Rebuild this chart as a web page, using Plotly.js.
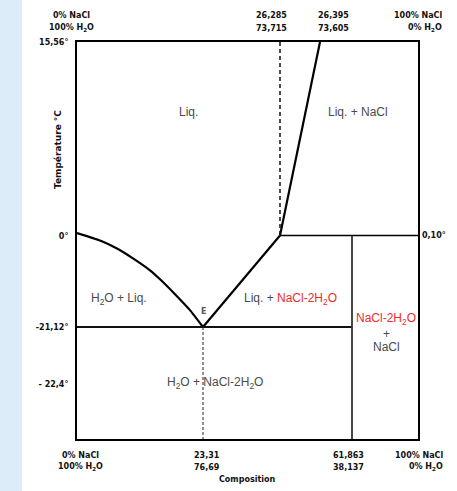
<!DOCTYPE html>
<html>
<head>
<meta charset="utf-8">
<script src="https://cdn.plot.ly/plotly-3.0.1.min.js"></script>
<style>html,body{margin:0;padding:0;background:#fff;}#chart{width:457px;height:491px;}</style>
</head>
<body>
<div id="chart"></div>
<script>
// ---- data (wt% NaCl, °C) ----
const compWater = 0;
const compEutectic = 23.31;
const compPeritectic = 26.285;
const compTopLiquidus = 26.395;
const compDihydrate = 61.863;
const compSalt = 100;

const tempTop = 15.56;
const tempPeritectic = 0.10;
const tempMelt = 0;
const tempEutectic = -21.12;
const tempLow = -22.4;
const tempAxisMin = -23.64;

const iceLiquidusComp = [0, 4.26, 7.40, 10.36, 13.5, 15.36, 18.13, 20.9, 23.31];
const iceLiquidusTemp = [0.3, -1.04, -2.89, -5.19, -7.96, -10.04, -13.5, -17.2, -21.12];
const dihLiquidusComp = [23.31, 26.285];
const dihLiquidusTemp = [-21.12, 0.10];
const saltLiquidusComp = [26.285, 26.395];
const saltLiquidusTemp = [0.10, 15.56];

const yTickVals = [15.56, 0, -21.12, -22.4];
const yTickText = ['15,56°', '0°', '-21,12°', '- 22,4°'];
const yRightTickVals = [0.10];
const yRightTickText = ['0,10°'];

const topRow1 = ['0% NaCl', '26,285', '26,395', '100% NaCl'];
const topRow2 = ['100% H<sub>2</sub>O', '73,715', '73,605', '0% H<sub>2</sub>O'];
const topComps = [0, 26.285, 26.395, 100];
const botRow1 = ['0% NaCl', '23,31', '61,863', '100% NaCl'];
const botRow2 = ['100% H<sub>2</sub>O', '76,69', '38,137', '0% H<sub>2</sub>O'];
const botComps = [0, 23.31, 61.863, 100];

// ---- schematic (non-linear) scale of the diagram ----
const L = 77, R = 418, T = 42, B = 439, W = 457, H = 491;
const xAnchorVal = [0, 23.31, 26.285, 26.395, 61.863, 100];
const xAnchorPx  = [77, 203, 280, 320, 352, 418];
const yAnchorVal = [-23.64, -22.4, -21.12, 0, 0.10, 15.56];
const yAnchorPx  = [439, 384, 327, 236, 235.5, 42];
function interp(v, vals, out) {
  for (let i = 0; i < vals.length - 1; i++) {
    if (v <= vals[i + 1] || i === vals.length - 2) {
      const f = (v - vals[i]) / (vals[i + 1] - vals[i]);
      return out[i] + f * (out[i + 1] - out[i]);
    }
  }
}
const sx = c => (interp(c, xAnchorVal, xAnchorPx) - L) / (R - L);
const sy = t => (B - interp(t, yAnchorVal, yAnchorPx)) / (B - T);
const px = p => (p - L) / (R - L);
const py = p => (B - p) / (B - T);

function line(xs, ys, opts) {
  return Object.assign({
    type: 'scatter', mode: 'lines', x: xs.map(sx), y: ys.map(sy),
    line: {color: '#000', width: 2}, hoverinfo: 'skip', showlegend: false, cliponaxis: false
  }, opts || {});
}

const traces = [
  line(iceLiquidusComp, iceLiquidusTemp, {line: {color: '#000', width: 2.2, shape: 'spline', smoothing: 0.4}}),
  line(dihLiquidusComp, dihLiquidusTemp, {line: {color: '#000', width: 2.2}}),
  line(saltLiquidusComp, saltLiquidusTemp, {line: {color: '#000', width: 2.2}}),
  line([compWater, compDihydrate], [tempEutectic, tempEutectic], {line: {color: '#111', width: 2}}),
  line([compPeritectic, compSalt], [tempPeritectic, tempPeritectic], {line: {color: '#000', width: 1.6}}),
  line([compDihydrate, compDihydrate], [tempPeritectic, tempAxisMin], {line: {color: '#333', width: 1.8}}),
  line([compEutectic, compEutectic], [tempEutectic, tempAxisMin], {line: {color: '#222', width: 1, dash: '3px,2px'}}),
  line([compPeritectic, compPeritectic], [tempTop, tempPeritectic], {line: {color: '#111', width: 1.5, dash: '4px,3px'}}),
  {type: 'scatter', x: [0], y: [0], yaxis: 'y2', mode: 'markers', marker: {opacity: 0}, hoverinfo: 'skip', showlegend: false}
];

const boldFont = {family: 'DejaVu Sans', size: 8, color: '#111', weight: 'bold'};
const gray = '#4a4a4a', red = '#ee2a2a';
const regFont = {family: 'Liberation Sans, Arial', size: 12, color: gray};

const ann = [];
function addAt(text, x, y, font, extra) {
  ann.push(Object.assign({text: text, xref: 'paper', yref: 'paper', x: px(x), y: py(y),
    showarrow: false, font: font, xanchor: 'center', yanchor: 'middle'}, extra || {}));
}
// top composition labels
const topShift = [-6, -9, 13, 0];
topComps.forEach((c, i) => {
  const xpx = (i === 3) ? 444 : interp(c, xAnchorVal, xAnchorPx) + topShift[i];
  const ex = (i === 3) ? {xanchor: 'right'} : {};
  addAt(topRow1[i], xpx, 15, boldFont, ex);
  addAt(topRow2[i], xpx, 28, boldFont, ex);
});
const botShift = [3, 4, -4, 0];
botComps.forEach((c, i) => {
  const xpx = (i === 3) ? 445 : interp(c, xAnchorVal, xAnchorPx) + botShift[i];
  const ex = (i === 3) ? {xanchor: 'right'} : {};
  addAt(botRow1[i], xpx, 455, boldFont, ex);
  addAt(botRow2[i], xpx, 467, boldFont, ex);
});
addAt('Composition', 247, 480, boldFont);
addAt('Température °C', 58, 150, Object.assign({}, boldFont, {size: 9}), {textangle: -90});

// region labels
addAt('Liq.', 188, 112, regFont);
addAt('Liq. + NaCl', 358, 112, regFont);
addAt('H<sub>2</sub>O + Liq.', 119, 299, regFont);
addAt('Liq. + <span style="color:' + red + '">NaCl-2H<sub>2</sub>O</span>', 290, 299, regFont);
addAt('E', 203, 311, {family: 'DejaVu Sans', size: 8, color: '#555', weight: 'bold'});
addAt('NaCl-2H<sub>2</sub>O', 386, 319, Object.assign({}, regFont, {color: red}));
addAt('+', 386, 334, regFont);
addAt('NaCl', 386, 347, regFont);
addAt('H<sub>2</sub>O + NaCl-2H<sub>2</sub>O', 215, 383, regFont);

const layout = {
  width: W, height: H,
  margin: {l: L, r: W - R, t: T, b: H - B, pad: 0},
  paper_bgcolor: '#fff', plot_bgcolor: '#fff',
  showlegend: false,
  xaxis: {range: [0, 1], showgrid: false, zeroline: false, showticklabels: false, ticks: '',
          showline: true, mirror: true, linecolor: '#000', linewidth: 2, fixedrange: true},
  yaxis: {range: [0, 1], showgrid: false, zeroline: false, ticks: '',
          tickvals: yTickVals.map(sy), ticktext: yTickText, tickfont: boldFont, ticklabelstandoff: 5,
          showline: true, mirror: true, linecolor: '#000', linewidth: 2, fixedrange: true},
  yaxis2: {range: [0, 1], overlaying: 'y', side: 'right', showgrid: false, zeroline: false, ticks: '',
           tickvals: yRightTickVals.map(sy), ticktext: yRightTickText, tickfont: boldFont,
           ticklabelstandoff: 3, showline: false, fixedrange: true},
  shapes: [
    {type: 'rect', xref: 'paper', yref: 'paper', x0: px(0), x1: px(22), y0: py(H), y1: py(0),
     fillcolor: '#dcecf8', line: {width: 0}, layer: 'below'}
  ],
  annotations: ann
};

Plotly.newPlot('chart', traces, layout, {staticPlot: true, displayModeBar: false});
</script>
</body>
</html>
